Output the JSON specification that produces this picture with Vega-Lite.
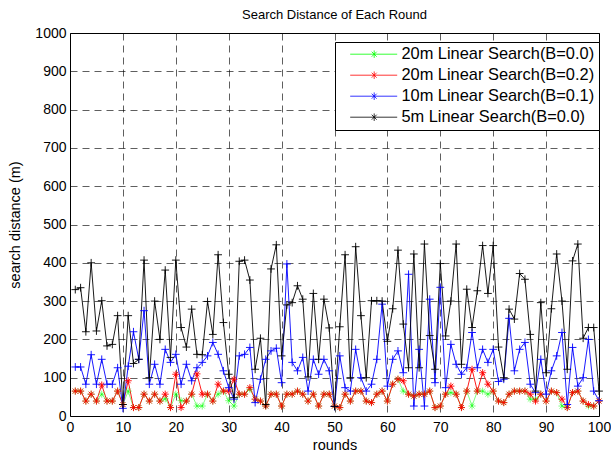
{
  "$schema": "https://vega.github.io/schema/vega-lite/v6.json",
  "width": 529,
  "height": 383,
  "autosize": "none",
  "padding": {"left": 70, "top": 33, "right": 12, "bottom": 40},
  "background": "white",
  "config": {
    "font": "Liberation Sans",
    "view": {"stroke": "black", "strokeWidth": 1},
    "axis": {
      "grid": true, "gridColor": "black", "gridDash": [7, 5], "gridWidth": 0.7, "gridOpacity": 0.9,
      "domain": false, "ticks": false, "labelFont": "Liberation Sans", "labelFontSize": 14,
      "labelColor": "black", "titleFont": "Liberation Sans", "titleFontSize": 14.5,
      "titleFontWeight": "normal", "titleColor": "black"
    }
  },
  "title": {"text": "Search Distance of Each Round", "font": "Liberation Sans", "fontSize": 13, "fontWeight": "normal", "color": "black", "offset": 4},
  "data": {"values": [
    {"x":1,"g":65,"r":65,"b":128,"k":330},
    {"x":2,"g":65,"r":65,"b":128,"k":335},
    {"x":3,"g":39,"r":39,"b":83,"k":220},
    {"x":4,"g":57,"r":57,"b":160,"k":400},
    {"x":5,"g":39,"r":39,"b":83,"k":222},
    {"x":6,"g":57,"r":81,"b":148,"k":301},
    {"x":7,"g":39,"r":39,"b":83,"k":183},
    {"x":8,"g":39,"r":39,"b":83,"k":187},
    {"x":9,"g":65,"r":65,"b":126,"k":262},
    {"x":10,"g":30,"r":30,"b":20,"k":30},
    {"x":11,"g":65,"r":92,"b":130,"k":262},
    {"x":12,"g":22,"r":22,"b":220,"k":137},
    {"x":13,"g":22,"r":22,"b":148,"k":148},
    {"x":14,"g":57,"r":57,"b":275,"k":407},
    {"x":15,"g":39,"r":39,"b":83,"k":100},
    {"x":16,"g":57,"r":57,"b":135,"k":300},
    {"x":17,"g":39,"r":39,"b":83,"k":200},
    {"x":18,"g":45,"r":57,"b":174,"k":381},
    {"x":19,"g":22,"r":22,"b":140,"k":153},
    {"x":20,"g":57,"r":109,"b":161,"k":407},
    {"x":21,"g":40,"r":22,"b":83,"k":231},
    {"x":22,"g":39,"r":39,"b":135,"k":180},
    {"x":23,"g":57,"r":57,"b":92,"k":279},
    {"x":24,"g":26,"r":110,"b":126,"k":161},
    {"x":25,"g":26,"r":57,"b":140,"k":160},
    {"x":26,"g":57,"r":57,"b":157,"k":299},
    {"x":27,"g":39,"r":39,"b":192,"k":213},
    {"x":28,"g":57,"r":83,"b":161,"k":421},
    {"x":29,"g":65,"r":65,"b":118,"k":244},
    {"x":30,"g":40,"r":65,"b":74,"k":109},
    {"x":31,"g":26,"r":96,"b":44,"k":48},
    {"x":32,"g":57,"r":57,"b":157,"k":404},
    {"x":33,"g":57,"r":57,"b":161,"k":407},
    {"x":34,"g":70,"r":74,"b":179,"k":355},
    {"x":35,"g":44,"r":44,"b":35,"k":122},
    {"x":36,"g":39,"r":39,"b":96,"k":203},
    {"x":37,"g":26,"r":26,"b":148,"k":30},
    {"x":38,"g":57,"r":57,"b":170,"k":384},
    {"x":39,"g":57,"r":57,"b":177,"k":447},
    {"x":40,"g":26,"r":26,"b":87,"k":157},
    {"x":41,"g":57,"r":57,"b":397,"k":290},
    {"x":42,"g":57,"r":57,"b":140,"k":296},
    {"x":43,"g":65,"r":65,"b":118,"k":340},
    {"x":44,"g":57,"r":57,"b":153,"k":305},
    {"x":45,"g":39,"r":39,"b":65,"k":102},
    {"x":46,"g":57,"r":57,"b":148,"k":320},
    {"x":47,"g":26,"r":26,"b":109,"k":148},
    {"x":48,"g":57,"r":57,"b":148,"k":305},
    {"x":49,"g":57,"r":57,"b":118,"k":230},
    {"x":50,"g":26,"r":26,"b":25,"k":25},
    {"x":51,"g":22,"r":22,"b":157,"k":233},
    {"x":52,"g":57,"r":57,"b":74,"k":421},
    {"x":53,"g":39,"r":39,"b":65,"k":100},
    {"x":54,"g":65,"r":65,"b":174,"k":442},
    {"x":55,"g":65,"r":65,"b":100,"k":262},
    {"x":56,"g":39,"r":39,"b":65,"k":100},
    {"x":57,"g":35,"r":35,"b":83,"k":301},
    {"x":58,"g":57,"r":57,"b":148,"k":301},
    {"x":59,"g":65,"r":65,"b":292,"k":300},
    {"x":60,"g":39,"r":39,"b":78,"k":195},
    {"x":61,"g":83,"r":83,"b":148,"k":280},
    {"x":62,"g":96,"r":96,"b":170,"k":433},
    {"x":63,"g":65,"r":92,"b":113,"k":240},
    {"x":64,"g":57,"r":57,"b":370,"k":126},
    {"x":65,"g":52,"r":52,"b":26,"k":423},
    {"x":66,"g":57,"r":57,"b":174,"k":126},
    {"x":67,"g":57,"r":57,"b":26,"k":449},
    {"x":68,"g":65,"r":65,"b":305,"k":210},
    {"x":69,"g":22,"r":22,"b":87,"k":122},
    {"x":70,"g":26,"r":26,"b":336,"k":398},
    {"x":71,"g":57,"r":57,"b":74,"k":209},
    {"x":72,"g":61,"r":78,"b":187,"k":300},
    {"x":73,"g":57,"r":57,"b":135,"k":449},
    {"x":74,"g":22,"r":22,"b":109,"k":135},
    {"x":75,"g":65,"r":65,"b":126,"k":331},
    {"x":76,"g":26,"r":122,"b":218,"k":231},
    {"x":77,"g":65,"r":65,"b":126,"k":327},
    {"x":78,"g":65,"r":113,"b":174,"k":445},
    {"x":79,"g":57,"r":83,"b":140,"k":320},
    {"x":80,"g":65,"r":65,"b":174,"k":445},
    {"x":81,"g":39,"r":39,"b":90,"k":180},
    {"x":82,"g":35,"r":35,"b":96,"k":100},
    {"x":83,"g":57,"r":57,"b":255,"k":279},
    {"x":84,"g":65,"r":65,"b":118,"k":253},
    {"x":85,"g":65,"r":65,"b":174,"k":372},
    {"x":86,"g":65,"r":65,"b":192,"k":357},
    {"x":87,"g":44,"r":57,"b":83,"k":213},
    {"x":88,"g":44,"r":39,"b":61,"k":65},
    {"x":89,"g":57,"r":57,"b":148,"k":296},
    {"x":90,"g":39,"r":39,"b":57,"k":113},
    {"x":91,"g":65,"r":65,"b":118,"k":280},
    {"x":92,"g":61,"r":61,"b":157,"k":423},
    {"x":93,"g":26,"r":44,"b":218,"k":300},
    {"x":94,"g":22,"r":22,"b":30,"k":122},
    {"x":95,"g":61,"r":61,"b":179,"k":405},
    {"x":96,"g":65,"r":65,"b":78,"k":449},
    {"x":97,"g":39,"r":39,"b":100,"k":203},
    {"x":98,"g":26,"r":30,"b":200,"k":231},
    {"x":99,"g":26,"r":26,"b":65,"k":231},
    {"x":100,"g":39,"r":39,"b":40,"k":65}
  ]},
  "transform": [{"fold": ["g", "r", "b", "k"], "as": ["key", "value"]}],
  "encoding": {
    "x": {"field": "x", "type": "quantitative", "title": "rounds",
      "scale": {"domain": [0, 100], "nice": false, "zero": false},
      "axis": {"values": [0,10,20,30,40,50,60,70,80,90,100], "labelPadding": 4, "titlePadding": 4, "labelFlush": false}},
    "y": {"field": "value", "type": "quantitative", "title": "search distance (m)",
      "scale": {"domain": [0, 1000], "nice": false},
      "axis": {"values": [0,100,200,300,400,500,600,700,800,900,1000], "format": "d", "labelPadding": 4, "titlePadding": 12}},
    "color": {"field": "key", "type": "nominal",
      "scale": {"domain": ["g", "r", "b", "k"], "range": ["#00ff00", "#ff0000", "#0000ff", "#000000"]},
      "legend": {
        "orient": "none", "legendX": 265, "legendY": 9, "title": null,
        "labelExpr": "{'g':'20m Linear Search(B=0.0)','r':'20m Linear Search(B=0.2)','b':'10m Linear Search(B=0.1)','k':'5m Linear Search(B=0.0)'}[datum.value]",
        "labelFont": "Liberation Sans", "labelFontSize": 16.4, "labelColor": "black", "labelLimit": 400,
        "strokeColor": "black", "fillColor": "white", "padding": 4, "rowPadding": 4,
        "symbolOffset": 8, "labelOffset": 38, "symbolSize": 100, "symbolStrokeWidth": 0.8,
        "symbolFillColor": "transparent", "symbolOpacity": 1,
        "symbolType": "M-1,0L8.4,0M3.8,-0.75L3.8,0.75M3.3,-0.5L4.3,0.5M3.3,0.5L4.3,-0.5"
      }},
    "strokeWidth": {"condition": {"test": "datum.key=='g'", "value": 0.5}, "value": 0.9}
  },
  "layer": [
    {"mark": {"type": "line"}},
    {"transform": [{"filter": "datum.key=='g' || datum.key=='r'"}],
      "mark": {"type": "point", "filled": false, "size": 50, "opacity": 1,
        "shape": "M-1,0L1,0M0,-1L0,1M-0.7,-0.7L0.7,0.7M-0.7,0.7L0.7,-0.7"}},
    {"transform": [{"filter": "datum.key=='b' || datum.key=='k'"}],
      "mark": {"type": "point", "filled": false, "size": 50, "opacity": 1,
        "shape": "M-1.1,0L1.1,0M0,-1.1L0,1.1"}}
  ]
}
